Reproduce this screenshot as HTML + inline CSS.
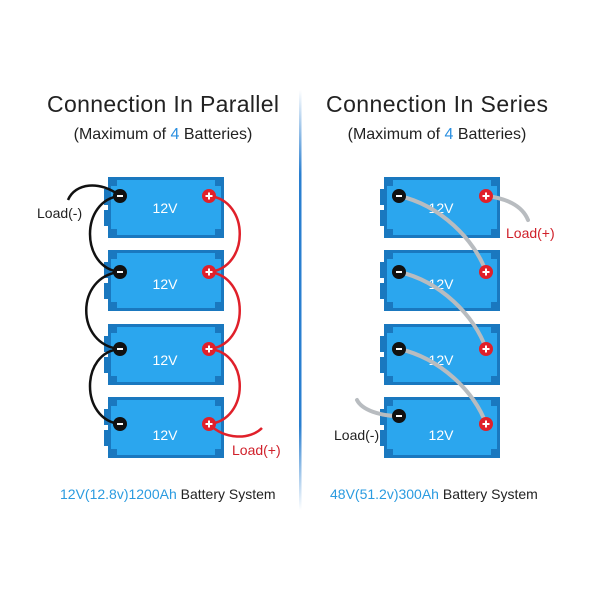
<!DOCTYPE html>
<html><head><style>
body{margin:0;background:#fff;}
svg text{font-family:"Liberation Sans",sans-serif;}
</style></head><body>
<svg width="600" height="600" viewBox="0 0 600 600" xmlns="http://www.w3.org/2000/svg">
<defs>
<linearGradient id="dv" x1="0" y1="0" x2="0" y2="1">
<stop offset="0" stop-color="#2a7fd0" stop-opacity="0"/>
<stop offset="0.2" stop-color="#2a7fd0"/>
<stop offset="0.8" stop-color="#2a7fd0"/>
<stop offset="1" stop-color="#2a7fd0" stop-opacity="0"/>
</linearGradient>
<g id="bat">
<rect x="-4" y="12" width="5" height="16" fill="#1a78bf"/>
<rect x="-4" y="33" width="5" height="16" fill="#1a78bf"/>
<rect x="0" y="0" width="116" height="61" fill="#1a78bf"/>
<rect x="3" y="3" width="110" height="55" fill="#2ba6ee"/>
<rect x="3" y="3" width="6" height="6" fill="#1a78bf"/>
<rect x="107" y="3" width="6" height="6" fill="#1a78bf"/>
<rect x="3" y="52" width="6" height="6" fill="#1a78bf"/>
<rect x="107" y="52" width="6" height="6" fill="#1a78bf"/>
</g>
<g id="neg"><circle r="7" fill="#111"/><rect x="-3" y="-1" width="6" height="2" fill="#fff"/></g>
<g id="pos"><circle r="7" fill="#e0202a"/><rect x="-3.5" y="-1" width="7" height="2" fill="#fff"/><rect x="-1" y="-3.5" width="2" height="7" fill="#fff"/></g>
</defs>

<text x="163" y="112" font-size="23" text-anchor="middle" fill="#222" textLength="232">Connection In Parallel</text>
<text x="163" y="139" font-size="16" text-anchor="middle" fill="#222">(Maximum of <tspan fill="#2a8fe0">4</tspan> Batteries)</text>
<text x="437" y="112" font-size="23" text-anchor="middle" fill="#222" textLength="222">Connection In Series</text>
<text x="437" y="139" font-size="16" text-anchor="middle" fill="#222">(Maximum of <tspan fill="#2a8fe0">4</tspan> Batteries)</text>

<rect x="299" y="90" width="2.5" height="420" fill="url(#dv)"/>

<use href="#bat" x="108" y="177"/>
<use href="#bat" x="108" y="250"/>
<use href="#bat" x="108" y="324"/>
<use href="#bat" x="108" y="397"/>
<use href="#bat" x="384" y="177"/>
<use href="#bat" x="384" y="250"/>
<use href="#bat" x="384" y="324"/>
<use href="#bat" x="384" y="397"/>

<g font-size="14" fill="#fff" text-anchor="middle">
<text x="165" y="213">12V</text><text x="165" y="289">12V</text><text x="165" y="365">12V</text><text x="165" y="440">12V</text>
<text x="441" y="213">12V</text><text x="441" y="289">12V</text><text x="441" y="365">12V</text><text x="441" y="440">12V</text>
</g>

<g fill="none" stroke="#111" stroke-width="2.5">
<path d="M120 196 C100 180 75 183 68 200"/>
<path d="M120 196 C80 200 80 268 120 272"/>
<path d="M120 272 C75 276 75 345 120 349"/>
<path d="M120 349 C80 352 80 420 120 424"/>
</g>
<g fill="none" stroke="#e0202a" stroke-width="2.5">
<path d="M209 196 C250 200 250 268 209 272"/>
<path d="M209 272 C250 276 250 345 209 349"/>
<path d="M209 349 C250 352 250 420 209 424"/>
<path d="M209 424 C225 440 250 440 262 428"/>
</g>
<g fill="none" stroke="#b8bcc0" stroke-width="4" stroke-linecap="round">
<path d="M399 196 C440 205 475 240 486 272"/>
<path d="M399 272 C440 281 475 316 486 349"/>
<path d="M399 349 C440 358 475 392 486 424"/>
<path d="M486 196 C505 198 522 205 528 220"/>
<path d="M399 416 C380 416 362 410 357 400"/>
</g>

<use href="#neg" x="120" y="196"/><use href="#neg" x="120" y="272"/><use href="#neg" x="120" y="349"/><use href="#neg" x="120" y="424"/>
<use href="#pos" x="209" y="196"/><use href="#pos" x="209" y="272"/><use href="#pos" x="209" y="349"/><use href="#pos" x="209" y="424"/>
<use href="#neg" x="399" y="196"/><use href="#neg" x="399" y="272"/><use href="#neg" x="399" y="349"/><use href="#neg" x="399" y="416"/>
<use href="#pos" x="486" y="196"/><use href="#pos" x="486" y="272"/><use href="#pos" x="486" y="349"/><use href="#pos" x="486" y="424"/>

<text x="37" y="218" font-size="14" fill="#222">Load(-)</text>
<text x="232" y="455" font-size="14" fill="#d0202a">Load(+)</text>
<text x="506" y="238" font-size="14" fill="#d0202a">Load(+)</text>
<text x="334" y="440" font-size="14" fill="#222">Load(-)</text>

<text x="60" y="499" font-size="14" fill="#222"><tspan fill="#2a9be0">12V(12.8v)1200Ah</tspan> Battery System</text>
<text x="330" y="499" font-size="14" fill="#222"><tspan fill="#2a9be0">48V(51.2v)300Ah</tspan> Battery System</text>
</svg>
</body></html>
